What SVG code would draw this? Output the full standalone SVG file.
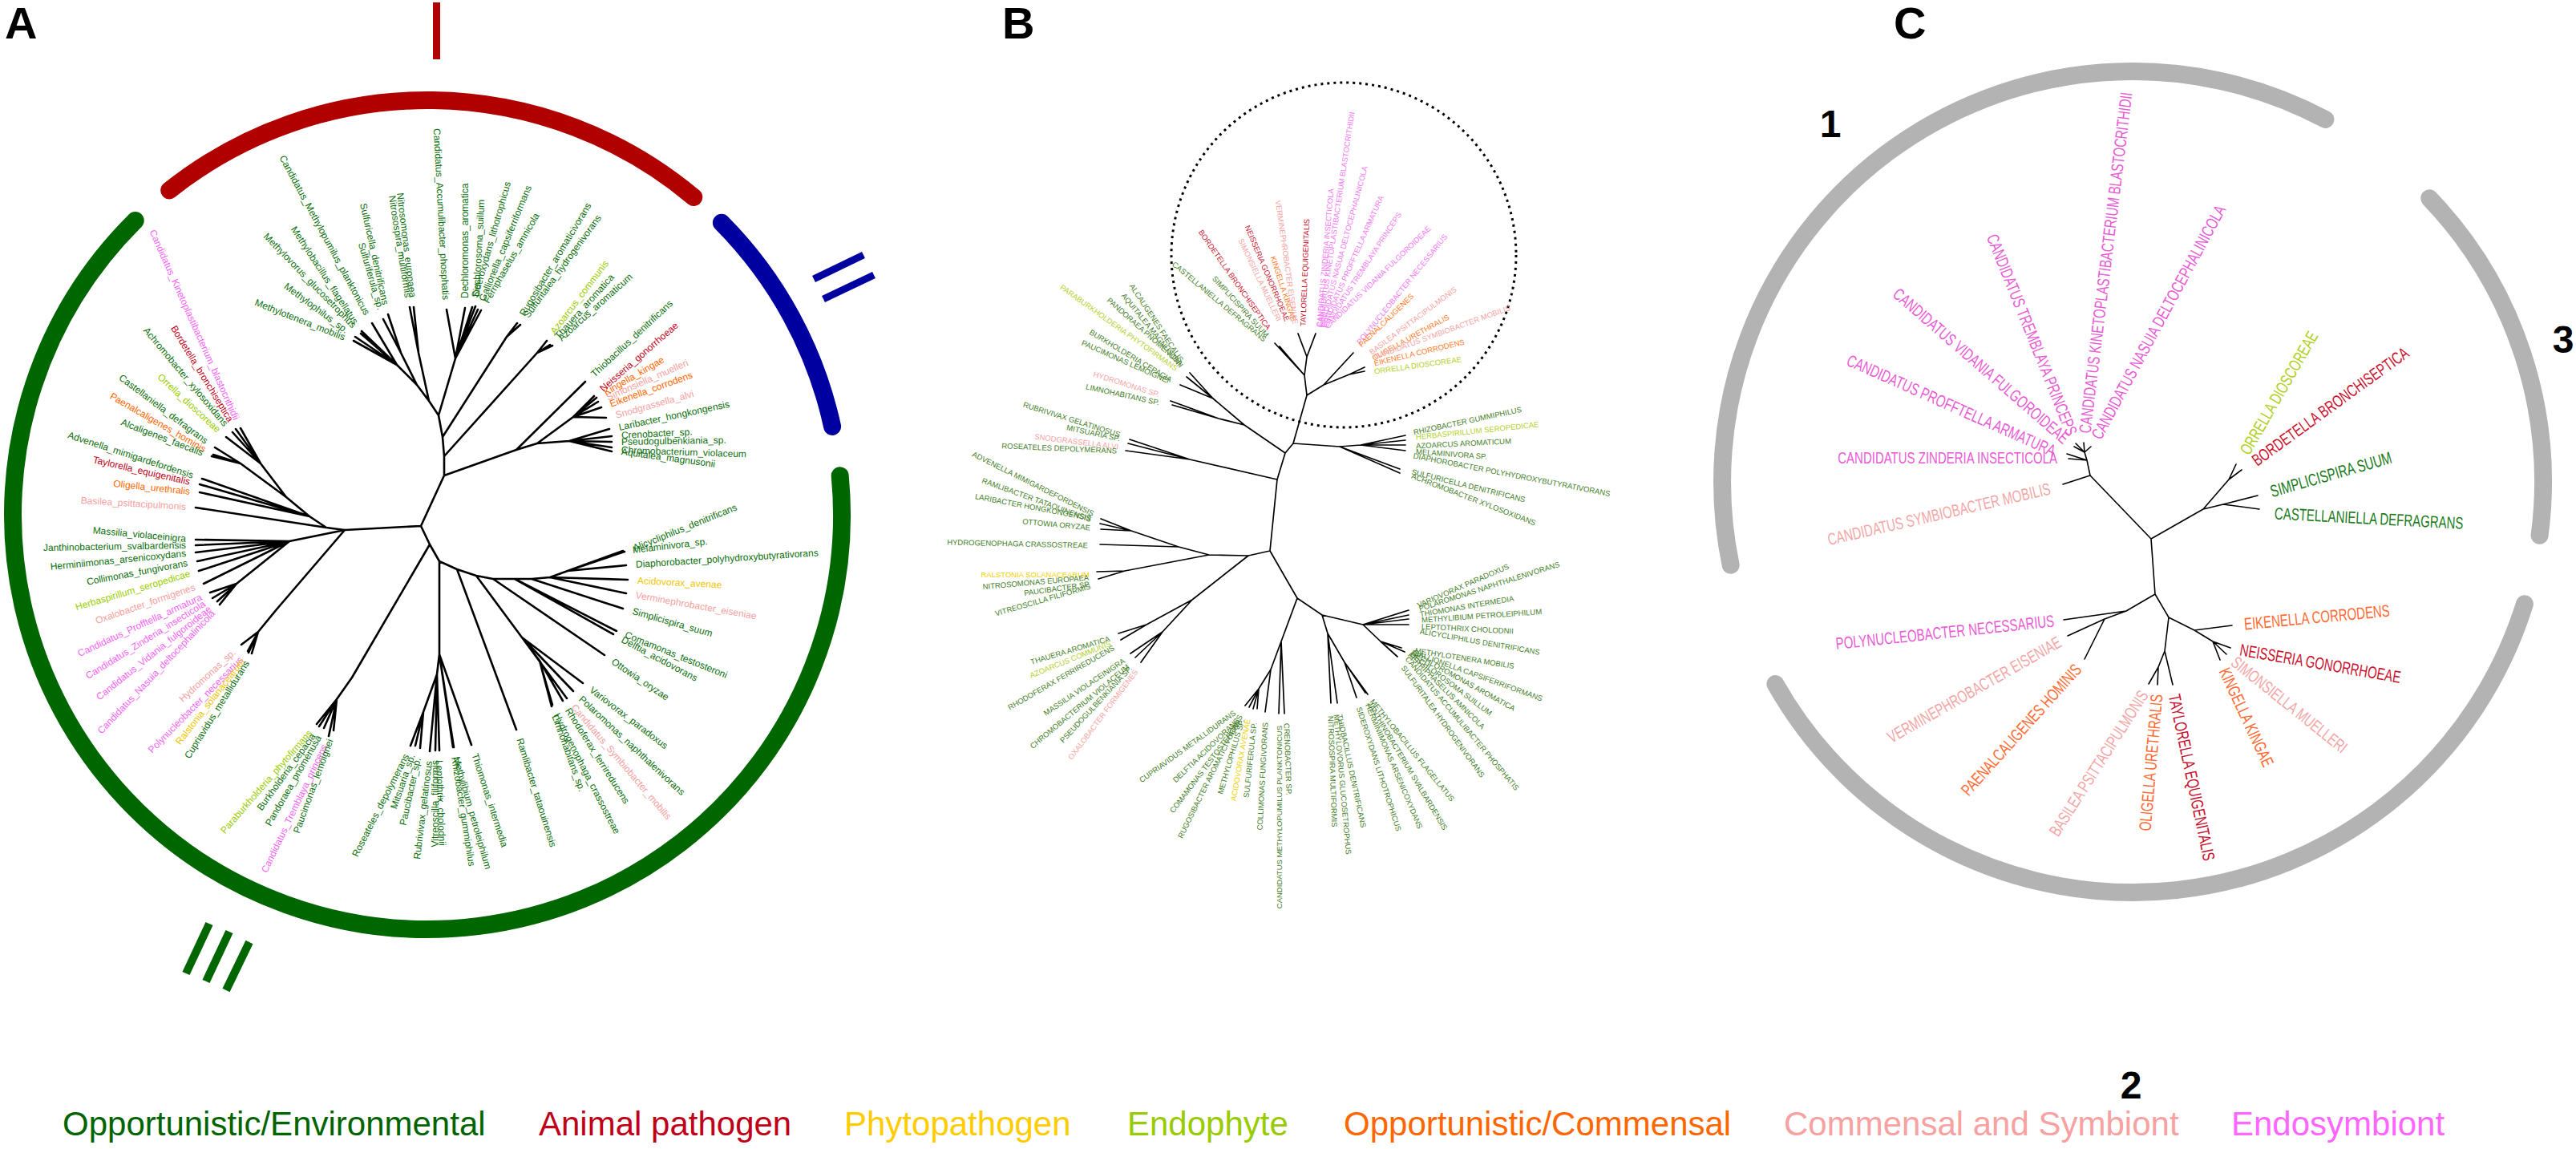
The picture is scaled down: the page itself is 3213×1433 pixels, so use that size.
<svg xmlns="http://www.w3.org/2000/svg" width="3213" height="1433" viewBox="0 0 3213 1433">
<style>
text{font-family:"Liberation Sans",Arial,sans-serif}
.lab{font-weight:bold}
.pa text{font-size:12px;dominant-baseline:central}
.pb text{font-size:9.5px;dominant-baseline:central}
.pc text{font-size:15px;dominant-baseline:central}
.l{text-anchor:end}
.og{fill:#0b6e0b}.ap{fill:#c0001a}.ph{fill:#f0c400}.en{fill:#9acd00}.oc{fill:#ff6600}.cs{fill:#f4a0a0}.es{fill:#f562f5}
.pb .og{fill:#437d27}.pb .es{fill:#f37af3}.pb .en{fill:#b3d12e}.pb .ph{fill:#f2d000}.pb .ap{fill:#c8102e}.pb .oc{fill:#ff7a26}.pb .cs{fill:#f5a3a3}
.pc .es{fill:#e95bd5}.pc .og{fill:#1a7a1a}.pc .cs{fill:#f3a6a6}.pc .oc{fill:#ff6a33}.pc .ap{fill:#c8102e}.pc .en{fill:#b0d020}
.tree{stroke:#000;fill:none;stroke-linecap:round;stroke-linejoin:round}
.arc{fill:none;stroke-linecap:round;stroke-width:22}
.leg{font-size:42px}
</style>

<!-- Panel letters -->
<text id="lab-A" class="lab" x="6" y="48" font-size="56">A</text>
<text id="lab-B" class="lab" x="1250" y="48" font-size="56">B</text>
<text id="lab-C" class="lab" x="2362" y="48" font-size="56">C</text>

<!-- Panel A arcs and markers -->
<g id="a-arcs">
<path class="arc" stroke="#b00000" d="M211.2 237.4 A517 517 0 0 1 865.3 246"/>
<path class="arc" stroke="#0000a0" d="M899.9 277.7 A517 517 0 0 1 1038.1 531.9"/>
<path class="arc" stroke="#006600" d="M1047.7 593.3 A517 517 0 1 1 168.7 275.1"/>
<rect x="540" y="3" width="9" height="71" fill="#b00000"/>
<g stroke="#0000a0" stroke-width="9"><line x1="1015" y1="348" x2="1077" y2="318"/><line x1="1027" y1="373" x2="1090" y2="343"/></g>
<g stroke="#006600" stroke-width="10"><line x1="232" y1="1214" x2="261" y2="1152"/><line x1="257" y1="1224" x2="286" y2="1162"/><line x1="282" y1="1235" x2="311" y2="1175"/></g>
</g>

<!-- Panel A tree -->
<g id="a-connectors" class="tree" stroke-width="2.6">
<path d="M525 656L430 661L407 658L244 633M407 658L386 644L252 597M386 644L249 604M386 644L249 614M386 644L357 620L325 578L300 534M325 578L294 535M325 578L290 539M325 578L282 545M357 620L300 578L268 558M300 578L266 567M300 578L264 569
M430 661L361 675L244 673M361 675L244 680M361 675L244 689M361 675L246 700M361 675L248 712M361 675L254 728M361 675L295 728L262 739M295 728L265 746M295 728L271 750M295 728L274 754
M430 661L345 760L322 788L301 804M322 788L309 812M322 788L310 814M322 788L314 815
M525 656L536 679L439 845L420 872L395 903M420 872L398 906M420 872L404 908M420 872L410 918M420 872L416 911
M536 679L548 700L548 816L545 841L528 888L512 930M528 888L518 930M528 888L524 933M545 841L536 937M545 841L543 936M545 841L548 936M548 816L565 932M548 816L566 932M548 816L588 929
M548 700L570 710L594 718L615 722L642 722L663 722L686 720L708 712M570 710L644 910M594 718L651 795L727 852M651 795L715 862M651 795L707 871M651 795L673 824L702 874M673 824L689 879M673 824L688 881M615 722L754 817M642 722L765 791M642 722L769 787M663 722L777 759M686 720L781 740M686 720L783 723M708 712L781 705M708 712L777 687M708 712L779 688
M525 656L554 593L554 569L552 545L547 518L535 500L520 480L495 455L441 425M495 455L443 420M495 455L450 416M495 455L451 413M495 455L464 403M520 480L500 440L484 392M500 440L478 398M535 500L522 440L516 383M522 440L511 383
M547 518L568 447L557 386M568 447L580 384M568 447L593 382M568 447L589 383M568 447L596 386M568 447L600 387
M552 545L632 420L645 403M632 420L649 405M554 569L670 440L689 431M670 440L686 430M670 440L682 425
M554 593L644 561L730 476M644 561L670 553L715 520L741 494M715 520L744 496M715 520L746 501M715 520L750 508M715 520L756 521M670 553L710 550L760 535M710 550L763 544M710 550L763 551M710 550L763 558M710 550L763 563"/>
</g>

<!-- Panel A labels -->
<g id="a-labels" class="pa">
<text id="a01" class="l es" transform="translate(295 523) rotate(66)">Candidatus_Kinetoplastibacterium_blastocrithidii</text>
<text id="a02" class="l ap" transform="translate(288 525) rotate(58.6)">Bordetella_bronchiseptica</text>
<text id="a03" class="l og" transform="translate(282 530) rotate(50)">Achromobacter_xylosoxidans</text>
<text id="a04" class="l en" transform="translate(273 537) rotate(42.6)">Orrella_dioscoreae</text>
<text id="a05" class="l og" transform="translate(258 551) rotate(37)">Castellaniella_defragrans</text>
<text id="a06" class="l oc" transform="translate(256 561) rotate(30)">Paenalcaligenes_hominis</text>
<text id="a07" class="l og" transform="translate(253 565) rotate(21)">Alcaligenes_faecalis</text>
<text id="a08" class="l og" transform="translate(241 593) rotate(18)">Advenella_mimigardefordensis</text>
<text id="a09" class="l ap" transform="translate(237 601) rotate(13)">Taylorella_equigenitalis</text>
<text id="a10" class="l oc" transform="translate(237 613) rotate(6)">Oligella_urethralis</text>
<text id="a11" class="l cs" transform="translate(232 632) rotate(3.5)">Basilea_psittacipulmonis</text>
<text id="a12" class="l og" transform="translate(232 672) rotate(5.3)">Massilia_violaceinigra</text>
<text id="a13" class="l og" transform="translate(232 680) rotate(-1)">Janthinobacterium_svalbardensis</text>
<text id="a14" class="l og" transform="translate(232 690) rotate(-5.7)">Herminiimonas_arsenicoxydans</text>
<text id="a15" class="l og" transform="translate(234 702) rotate(-10.7)">Collimonas_fungivorans</text>
<text id="a16" class="l en" transform="translate(237 715) rotate(-16.6)">Herbaspirillum_seropedicae</text>
<text id="a17" class="l cs" transform="translate(243 732) rotate(-19)">Oxalobacter_formigenes</text>
<text id="a18" class="l es" transform="translate(251 744) rotate(-25)">Candidatus_Profftella_armatura</text>
<text id="a19" class="l es" transform="translate(255 752) rotate(-32)">Candidatus_Zinderia_insecticola</text>
<text id="a20" class="l es" transform="translate(262 758) rotate(-38.7)">Candidatus_Vidania_fulgoroideae</text>
<text id="a21" class="l es" transform="translate(266 763) rotate(-46.6)">Candidatus_Nasuia_deltocephalinicola</text>
<text id="a22" class="l cs" transform="translate(292 812) rotate(-42.6)">Hydromonas_sp.</text>
<text id="a23" class="l es" transform="translate(301 821) rotate(-45.5)">Polynucleobacter_necessarius</text>
<text id="a24" class="l ph" transform="translate(303 823) rotate(-52)">Ralstonia_solanacearum</text>
<text id="a25" class="l og" transform="translate(308 825) rotate(-58)">Cupriavidus_metallidurans</text>
<text id="a26" class="l en" transform="translate(387 912) rotate(-49)">Paraburkholderia_phytofirmans</text>
<text id="a27" class="l og" transform="translate(391 916) rotate(-54)">Burkholderia_cepacia</text>
<text id="a28" class="l og" transform="translate(398 918) rotate(-60)">Pandoraea_pnomenusa</text>
<text id="a29" class="l es" transform="translate(405 929) rotate(-64.5)">Candidatus_Tremblaya_princeps</text>
<text id="a30" class="l og" transform="translate(412 922) rotate(-70)">Paucimonas_lemoignei</text>
<text id="a31" class="l og" transform="translate(507 941) rotate(-63)">Roseateles_depolymerans</text>
<text id="a32" class="l og" transform="translate(514 941) rotate(-71)">Mitsuaria_sp.</text>
<text id="a33" class="l og" transform="translate(521 945) rotate(-77.5)">Paucibacter_sp.</text>
<text id="a34" class="l og" transform="translate(535 949) rotate(-83)">Rubrivivax_gelatinosus</text>
<text id="a35" class="l og" transform="translate(543 948) rotate(-90)">Vitreoscilla_filiformis</text>
<text id="a36" class="og" transform="translate(548 948) rotate(88)">Leptothrix_cholodnii</text>
<text id="a37" class="og" transform="translate(567 944) rotate(81)">Rhizobacter_gummiphilus</text>
<text id="a38" class="og" transform="translate(569 944) rotate(74)">Methylibium_petroleiphilum</text>
<text id="a39" class="og" transform="translate(592 940) rotate(72)">Thiomonas_intermedia</text>
<text id="a40" class="og" transform="translate(648 921) rotate(72.7)">Ramlibacter_tataouinensis</text>
<text id="a41" class="og" transform="translate(692 892) rotate(70)">Limnohabitans_sp.</text>
<text id="a42" class="og" transform="translate(694 890) rotate(63)">Hydrogenophaga_crassostreae</text>
<text id="a43" class="og" transform="translate(708 884) rotate(57.7)">Rhodoferax_ferrireducens</text>
<text id="a44" class="cs" transform="translate(715 880) rotate(49.5)">Candidatus_Symbiobacter_mobilis</text>
<text id="a45" class="og" transform="translate(724 870) rotate(43)">Polaromonas_naphthalenivorans</text>
<text id="a46" class="og" transform="translate(737 859) rotate(37.5)">Variovorax_paradoxus</text>
<text id="a47" class="og" transform="translate(764 824) rotate(34)">Ottowia_oryzae</text>
<text id="a48" class="og" transform="translate(776 797) rotate(28)">Delftia_acidovorans</text>
<text id="a49" class="og" transform="translate(780 791) rotate(22)">Comamonas_testosteroni</text>
<text id="a50" class="og" transform="translate(789 762) rotate(16)">Simplicispira_suum</text>
<text id="a51" class="cs" transform="translate(793 742) rotate(10)">Verminephrobacter_eiseniae</text>
<text id="a52" class="ph" transform="translate(795 724) rotate(3)">Acidovorax_avenae</text>
<text id="a53" class="og" transform="translate(793 704) rotate(-3.7)">Diaphorobacter_polyhydroxybutyrativorans</text>
<text id="a54" class="og" transform="translate(789 686) rotate(-6.7)">Melaminivora_sp.</text>
<text id="a55" class="og" transform="translate(790 684) rotate(-22)">Alicycliphilus_denitrificans</text>
<text id="a56" class="og" transform="translate(775 563) rotate(7.7)">Aquitalea_magnusonii</text>
<text id="a57" class="og" transform="translate(775 561) rotate(2)">Chromobacterium_violaceum</text>
<text id="a58" class="og" transform="translate(775 551) rotate(-1)">Pseudogulbenkiania_sp.</text>
<text id="a59" class="og" transform="translate(775 543) rotate(-3)">Crenobacter_sp.</text>
<text id="a60" class="og" transform="translate(772 533) rotate(-12)">Laribacter_hongkongensis</text>
<text id="a61" class="cs" transform="translate(768 518) rotate(-15.7)">Snodgrassella_alvi</text>
<text id="a62" class="oc" transform="translate(761 504) rotate(-19.8)">Eikenella_corrodens</text>
<text id="a63" class="cs" transform="translate(757 496) rotate(-23.7)">Simonsiella_muelleri</text>
<text id="a64" class="oc" transform="translate(754 490) rotate(-30)">Kingella_kingae</text>
<text id="a65" class="ap" transform="translate(750 486) rotate(-41)">Neisseria_gonorrhoeae</text>
<text id="a66" class="og" transform="translate(739 468) rotate(-43)">Thiobacillus_denitrificans</text>
<text id="a67" class="og" transform="translate(698 423) rotate(-41.8)">Azoarcus_aromaticum</text>
<text id="a68" class="og" transform="translate(694 421) rotate(-48)">Thauera_aromatica</text>
<text id="a69" class="en" transform="translate(689 415) rotate(-52.8)">Azoarcus_communis</text>
<text id="a70" class="og" transform="translate(656 395) rotate(-54)">Sulfuritalea_hydrogenivorans</text>
<text id="a71" class="og" transform="translate(651 393) rotate(-59)">Rugosibacter_aromaticivorans</text>
<text id="a72" class="og" transform="translate(606 377) rotate(-60)">Ferriphaselus_amnicola</text>
<text id="a73" class="og" transform="translate(601 375) rotate(-67.8)">Gallionella_capsiferriformans</text>
<text id="a74" class="og" transform="translate(592 371) rotate(-74)">Sideroxydans_lithotrophicus</text>
<text id="a75" class="og" transform="translate(594 370) rotate(-87)">Dechlorosoma_suillum</text>
<text id="a76" class="og" transform="translate(580 372) rotate(-90)">Dechloromonas_aromatica</text>
<text id="a77" class="l og" transform="translate(556 374) rotate(87)">Candidatus_Accumulibacter_phosphatis</text>
<text id="a78" class="l og" transform="translate(515 371) rotate(83)">Nitrosomonas_europaea</text>
<text id="a79" class="l og" transform="translate(509 371) rotate(81)">Nitrosospira_multiformis</text>
<text id="a80" class="l og" transform="translate(481 380) rotate(77.5)">Sulfuricella_denitrificans</text>
<text id="a81" class="l og" transform="translate(475 386) rotate(73.6)">Sulfuriferula_sp.</text>
<text id="a82" class="l og" transform="translate(458 392) rotate(61.7)">Candidatus_Methylopumilus_planktonicus</text>
<text id="a83" class="l og" transform="translate(444 403) rotate(56.8)">Methylobacillus_flagellatus</text>
<text id="a84" class="l og" transform="translate(442 407) rotate(45.8)">Methylovorus_glucosetrophus</text>
<text id="a85" class="l og" transform="translate(433 413) rotate(36.7)">Methylophilus_sp.</text>
<text id="a86" class="l og" transform="translate(430 421) rotate(21.7)">Methylotenera_mobilis</text>
</g>

<!-- Panel B -->
<circle id="b-circle" cx="1676" cy="318" r="215" fill="none" stroke="#000" stroke-width="3" stroke-dasharray="3 5"/>
<g id="b-connectors" class="tree" stroke-width="1.7">
<path d="M1613 553L1630 493L1627 468L1630 445L1619 416M1630 445L1641 416M1627 468L1590 428M1627 468L1596 432M1630 493L1651 480L1688 440M1651 480L1683 467L1702 458M1683 467L1702 463
M1613 553L1671 557L1697 555L1753 543M1697 555L1753 549M1697 555L1753 555M1697 555L1753 562M1671 557L1746 585M1671 557L1746 590
M1613 553L1603 565L1552 530L1513 497L1484 465M1513 497L1480 470M1513 497L1472 480M1552 530L1520 522L1460 500M1520 522L1462 505
M1603 565L1593 598L1484 573L1409 548M1484 573L1407 553M1484 573L1404 562M1593 598L1584 687
M1584 687L1557 693L1508 692L1470 682L1372 679M1470 682L1411 662L1373 647M1411 662L1372 653M1411 662L1373 660M1508 692L1403 712L1368 713M1403 712L1370 722
M1557 693L1487 748L1430 779L1395 790M1430 779L1398 798M1487 748L1450 788L1410 815M1450 788L1416 820M1450 788L1423 826
M1584 687L1618 746L1649 767L1700 779L1757 761M1700 779L1757 767M1700 779L1757 772M1700 779L1757 779M1700 779L1722 800L1748 808M1722 800L1752 813M1722 800L1743 819
M1618 746L1598 800L1595 890M1598 800L1602 890M1598 800L1585 835L1578 888M1585 835L1570 859L1553 880M1570 859L1558 882M1570 859L1563 884M1570 859L1568 884
M1649 767L1656 790L1660 877M1656 790L1668 877M1656 790L1677 826L1692 870M1677 826L1703 864M1677 826L1706 866"/>
</g>
<g id="b-labels" class="pb">
<text id="b01" class="l og" transform="translate(1578 424) rotate(40)">CASTELLANIELLA DEFRAGRANS</text>
<text id="b02" class="l og" transform="translate(1581 419) rotate(47.6)">SIMPLICISPIRA SUUM</text>
<text id="b03" class="l ap" transform="translate(1583 410) rotate(55)">BORDETELLA BRONCHISEPTICA</text>
<text id="b04" class="l ap" transform="translate(1606 400) rotate(67)">NEISSERIA GONORRHOEAE</text>
<text id="b05" class="l cs" transform="translate(1596 400) rotate(64.5)">SIMONSIELLA MUELLERI</text>
<text id="b06" class="l oc" transform="translate(1614 400) rotate(72)">KINGELLA KINGAE</text>
<text id="b07" class="l cs" transform="translate(1616 404) rotate(82)">VERMINEPHROBACTER EISENIAE</text>
<text id="b08" class="ap" transform="translate(1625 407) rotate(-88)">TAYLORELLA EQUIGENITALIS</text>
<text id="b09" class="es" transform="translate(1645 408) rotate(-85)">CANDIDATUS ZINDERIA INSECTICOLA</text>
<text id="b10" class="es" transform="translate(1646 408) rotate(-81.5)">CANDIDATUS KINETOPLASTIBACTERIUM BLASTOCRITHIDII</text>
<text id="b11" class="es" transform="translate(1648 408) rotate(-74.8)">CANDIDATUS NASUIA DELTOCEPHALINICOLA</text>
<text id="b12" class="es" transform="translate(1650 408) rotate(-66)">CANDIDATUS PROFFTELLA ARMATURA</text>
<text id="b13" class="es" transform="translate(1652 408) rotate(-56.7)">CANDIDATUS TREMBLAYA PRINCEPS</text>
<text id="b14" class="es" transform="translate(1654 408) rotate(-44)">CANDIDATUS VIDANIA FULGOROIDEAE</text>
<text id="b15" class="es" transform="translate(1694 428) rotate(-51)">POLYNUCLEOBACTER NECESSARIUS</text>
<text id="b16" class="oc" transform="translate(1696 431) rotate(-44)">PAENALCALIGENES</text>
<text id="b17" class="cs" transform="translate(1709 440) rotate(-37)">BASILEA PSITTACIPULMONIS</text>
<text id="b18" class="oc" transform="translate(1712 447) rotate(-29)">OLIGELLA URETHRALIS</text>
<text id="b19" class="cs" transform="translate(1714 445) rotate(-20)">CANDIDATUS SYMBIOBACTER MOBILIS</text>
<text id="b20" class="oc" transform="translate(1714 453) rotate(-13.5)">EIKENELLA CORRODENS</text>
<text id="b21" class="en" transform="translate(1714 463) rotate(-8)">ORRELLA DIOSCOREAE</text>
<text id="b22" class="l og" transform="translate(1474 450) rotate(56.6)">ALCALIGENES FAECALIS</text>
<text id="b23" class="l og" transform="translate(1474 457) rotate(51)">AQUITALEA MAGNUSONII</text>
<text id="b24" class="l og" transform="translate(1474 454) rotate(41.5)">PANDORAEA PNOMENUSA</text>
<text id="b25" class="l en" transform="translate(1468 460) rotate(35.5)">PARABURKHOLDERIA PHYTOFIRMANS</text>
<text id="b26" class="l og" transform="translate(1461 474) rotate(31)">BURKHOLDERIA CEPACIA</text>
<text id="b27" class="l og" transform="translate(1458 475) rotate(24)">PAUCIMONAS LEMOIGNEI</text>
<text id="b28" class="l cs" transform="translate(1446 492) rotate(17.5)">HYDROMONAS SP.</text>
<text id="b29" class="l og" transform="translate(1446 502) rotate(12.4)">LIMNOHABITANS SP.</text>
<text id="b30" class="l og" transform="translate(1397 542) rotate(17.5)">RUBRIVIVAX GELATINOSUS</text>
<text id="b31" class="l og" transform="translate(1397 547) rotate(12)">MITSUARIA SP.</text>
<text id="b32" class="l cs" transform="translate(1395 557) rotate(7)">SNODGRASSELLA ALVI</text>
<text id="b33" class="l og" transform="translate(1393 562) rotate(2.5)">ROSEATELES DEPOLYMERANS</text>
<text id="b34" class="l og" transform="translate(1364 641) rotate(26.6)">ADVENELLA MIMIGARDEFORDENSIS</text>
<text id="b35" class="l og" transform="translate(1361 648) rotate(20)">RAMLIBACTER TATAOUINENSIS</text>
<text id="b36" class="l og" transform="translate(1361 646) rotate(10.7)">LARIBACTER HONGKONGENSIS</text>
<text id="b37" class="l og" transform="translate(1360 658) rotate(5.4)">OTTOWIA ORYZAE</text>
<text id="b38" class="l og" transform="translate(1357 680) rotate(1.3)">HYDROGENOPHAGA CRASSOSTREAE</text>
<text id="b39" class="l ph" transform="translate(1359 716) rotate(0)">RALSTONIA SOLANACEARUM</text>
<text id="b40" class="l og" transform="translate(1358 720) rotate(-5)">NITROSOMONAS EUROPAEA</text>
<text id="b41" class="l og" transform="translate(1360 728) rotate(-8)">PAUCIBACTER SP.</text>
<text id="b42" class="l og" transform="translate(1360 731) rotate(-16)">VITREOSCILLA FILIFORMIS</text>
<text id="b43" class="l og" transform="translate(1384 796) rotate(-16.7)">THAUERA AROMATICA</text>
<text id="b44" class="l en" transform="translate(1385 802) rotate(-22)">AZOARCUS COMMUNIS</text>
<text id="b45" class="l og" transform="translate(1389 807) rotate(-30)">RHODOFERAX FERRIREDUCENS</text>
<text id="b46" class="l og" transform="translate(1402 823) rotate(-34)">MASSILIA VIOLACEINIGRA</text>
<text id="b47" class="l og" transform="translate(1407 830) rotate(-40)">CHROMOBACTERIUM VIOLACEUM</text>
<text id="b48" class="l og" transform="translate(1410 832) rotate(-47)">PSEUDOGULBENKIANIA SP.</text>
<text id="b49" class="l cs" transform="translate(1417 836) rotate(-53)">OXALOBACTER FORMIGENES</text>
<text id="b50" class="l og" transform="translate(1540 888) rotate(-36)">CUPRIAVIDUS METALLIDURANS</text>
<text id="b51" class="l og" transform="translate(1544 897) rotate(-44)">DELFTIA ACIDOVORANS</text>
<text id="b52" class="l og" transform="translate(1545 901) rotate(-53)">COMAMONAS TESTOSTERONI</text>
<text id="b53" class="l og" transform="translate(1547 892) rotate(-63.7)">RUGOSIBACTER AROMATICIVORANS</text>
<text id="b54" class="l og" transform="translate(1549 897) rotate(-73.6)">METHYLOPHILUS SP.</text>
<text id="b55" class="l ph" transform="translate(1556 897) rotate(-80)">ACIDOVORAX AVENAE</text>
<text id="b56" class="l og" transform="translate(1564 901) rotate(-84)">SULFURIFERULA SP.</text>
<text id="b57" class="l og" transform="translate(1578 901) rotate(-87)">COLLIMONAS FUNGIVORANS</text>
<text id="b58" class="l og" transform="translate(1595 905) rotate(-90)">CANDIDATUS METHYLOPUMILUS PLANKTONICUS</text>
<text id="b59" class="og" transform="translate(1605 902) rotate(88)">CRENOBACTER SP.</text>
<text id="b60" class="og" transform="translate(1660 893) rotate(88)">NITROSOSPIRA MULTIFORMIS</text>
<text id="b61" class="og" transform="translate(1667 891) rotate(85)">METHYLOVORUS GLUCOSETROPHUS</text>
<text id="b62" class="og" transform="translate(1671 891) rotate(78)">THIOBACILLUS DENITRIFICANS</text>
<text id="b63" class="og" transform="translate(1695 882) rotate(72)">SIDEROXYDANS LITHOTROPHICUS</text>
<text id="b64" class="og" transform="translate(1706 878) rotate(67)">HERMINIIMONAS ARSENICOXYDANS</text>
<text id="b65" class="og" transform="translate(1708 876) rotate(59)">JANTHINOBACTERIUM SVALBARDENSIS</text>
<text id="b66" class="og" transform="translate(1711 873) rotate(51)">METHYLOBACILLUS FLAGELLATUS</text>
<text id="b67" class="og" transform="translate(1750 831) rotate(54)">SULFURITALEA HYDROGENIVORANS</text>
<text id="b68" class="og" transform="translate(1755 820) rotate(50)">CANDIDATUS ACCUMULIBACTER PHOSPHATIS</text>
<text id="b69" class="og" transform="translate(1758 815) rotate(45)">FERRIPHASELUS AMNICOLA</text>
<text id="b70" class="og" transform="translate(1760 815) rotate(37)">DECHLOROSOMA SUILLUM</text>
<text id="b71" class="og" transform="translate(1761 813) rotate(29)">DECHLOROMONAS AROMATICA</text>
<text id="b72" class="og" transform="translate(1763 813) rotate(20)">GALLIONELLA CAPSIFERRIFORMANS</text>
<text id="b73" class="og" transform="translate(1765 811) rotate(9)">METHYLOTENERA MOBILIS</text>
<text id="b74" class="og" transform="translate(1768 755) rotate(-23.5)">VARIOVORAX PARADOXUS</text>
<text id="b75" class="og" transform="translate(1770 759) rotate(-17.7)">POLAROMONAS NAPHTHALENIVORANS</text>
<text id="b76" class="og" transform="translate(1771 766) rotate(-9.7)">THIOMONAS INTERMEDIA</text>
<text id="b77" class="og" transform="translate(1773 773) rotate(-4)">METHYLIBIUM PETROLEIPHILUM</text>
<text id="b78" class="og" transform="translate(1773 781) rotate(3)">LEPTOTHRIX CHOLODNII</text>
<text id="b79" class="og" transform="translate(1771 787) rotate(10)">ALICYCLIPHILUS DENITRIFICANS</text>
<text id="b80" class="og" transform="translate(1763 539) rotate(-12)">RHIZOBACTER GUMMIPHILUS</text>
<text id="b81" class="en" transform="translate(1766 545) rotate(-6)">HERBASPIRILLUM SEROPEDICAE</text>
<text id="b82" class="og" transform="translate(1766 556) rotate(-3)">AZOARCUS AROMATICUM</text>
<text id="b83" class="og" transform="translate(1766 563) rotate(4)">MELAMINIVORA SP.</text>
<text id="b84" class="og" transform="translate(1763 568) rotate(11)">DIAPHOROBACTER POLYHYDROXYBUTYRATIVORANS</text>
<text id="b85" class="og" transform="translate(1761 588) rotate(14)">SULFURICELLA DENITRIFICANS</text>
<text id="b86" class="og" transform="translate(1761 593) rotate(21)">ACHROMOBACTER XYLOSOXIDANS</text>
</g>

<!-- Panel C -->
<g id="c-arcs">
<path class="arc" stroke="#b3b3b3" d="M2158.7 704.8 A512 512 0 0 1 2900.4 148.9"/>
<path class="arc" stroke="#b3b3b3" d="M3030.2 247.3 A512 512 0 0 1 3167.6 667.8"/>
<path class="arc" stroke="#b3b3b3" d="M3148.9 753.3 A512 512 0 0 1 2214.4 853.1"/>
<text id="c-n1" class="lab" x="2283" y="171" font-size="48" text-anchor="middle">1</text>
<text id="c-n2" class="lab" x="2658" y="1370" font-size="48" text-anchor="middle">2</text>
<text id="c-n3" class="lab" x="3197" y="440" font-size="48" text-anchor="middle">3</text>
</g>
<g id="c-connectors" class="tree" stroke-width="1.6">
<path d="M2683 672L2607 593L2573 604M2607 593L2603 574L2580 572M2603 574L2578 566M2603 574L2600 564L2589 553M2600 564L2587 557M2600 564L2599 552M2600 564L2608 557
M2683 672L2688 741L2652 762L2574 773M2652 762L2625 772L2579 793M2625 772L2600 822
M2688 741L2705 770L2737 786L2784 780M2737 786L2760 800L2782 808M2760 800L2777 816M2760 800L2769 823M2705 770L2700 812L2710 854M2700 812L2692 832L2691 854M2692 832L2680 853
M2683 672L2748 635L2773 629L2816 618M2773 629L2818 635M2748 635L2780 598L2796 586M2780 598L2789 579"/>
</g>
<g id="c-labels" class="pc">
<text id="c01" class="l es" transform="translate(2566 571) scale(1 1.4)">CANDIDATUS ZINDERIA INSECTICOLA</text>
<text id="c02" class="l cs" transform="translate(2557 609) rotate(-13) scale(1 1.4)">CANDIDATUS SYMBIOBACTER MOBILIS</text>
<text id="c03" class="l es" transform="translate(2563 563) rotate(24) scale(1 1.4)">CANDIDATUS PROFFTELLA ARMATURA</text>
<text id="c04" class="l es" transform="translate(2578 549) rotate(41) scale(1 1.4)">CANDIDATUS VIDANIA FULGOROIDEAE</text>
<text id="c05" class="l es" transform="translate(2585 542) rotate(68) scale(1 1.4)">CANDIDATUS TREMBLAYA PRINCEPS</text>
<text id="c06" class="es" transform="translate(2600 540) rotate(-83) scale(1 1.4)">CANDIDATUS KINETOPLASTIBACTERIUM BLASTOCRITHIDII</text>
<text id="c07" class="es" transform="translate(2614 546) rotate(-61.6) scale(1 1.4)">CANDIDATUS NASUIA DELTOCEPHALINICOLA</text>
<text id="c08" class="l es" transform="translate(2562 774) rotate(-6) scale(1 1.4)">POLYNUCLEOBACTER NECESSARIUS</text>
<text id="c09" class="l cs" transform="translate(2569 799) rotate(-29.7) scale(1 1.4)">VERMINEPHROBACTER EISENIAE</text>
<text id="c10" class="l oc" transform="translate(2592 831) rotate(-48) scale(1 1.4)">PAENALCALIGENES HOMINIS</text>
<text id="c11" class="l cs" transform="translate(2674 863) rotate(-57.5) scale(1 1.4)">BASILEA PSITTACIPULMONIS</text>
<text id="c12" class="l oc" transform="translate(2690 866) rotate(-85) scale(1 1.4)">OLIGELLA URETHRALIS</text>
<text id="c13" class="ap" transform="translate(2712 866) rotate(78) scale(1 1.4)">TAYLORELLA EQUIGENITALIS</text>
<text id="c14" class="oc" transform="translate(2774 834) rotate(65) scale(1 1.4)">KINGELLA KINGAE</text>
<text id="c15" class="cs" transform="translate(2786 823) rotate(38.7) scale(1 1.4)">SIMONSIELLA MUELLERI</text>
<text id="c16" class="ap" transform="translate(2794 810) rotate(9.8) scale(1 1.4)">NEISSERIA GONORRHOEAE</text>
<text id="c17" class="oc" transform="translate(2799 778) rotate(-5.3) scale(1 1.4)">EIKENELLA CORRODENS</text>
<text id="c18" class="og" transform="translate(2837 640) rotate(3) scale(1 1.4)">CASTELLANIELLA DEFRAGRANS</text>
<text id="c19" class="og" transform="translate(2832 613) rotate(-16) scale(1 1.4)">SIMPLICISPIRA SUUM</text>
<text id="c20" class="ap" transform="translate(2811 576) rotate(-36) scale(1 1.4)">BORDETELLA BRONCHISEPTICA</text>
<text id="c21" class="en" transform="translate(2799 565) rotate(-60) scale(1 1.4)">ORRELLA DIOSCOREAE</text>
</g>

<!-- Legend -->
<g id="legend" class="leg">
<text id="lg1" x="78" y="1416" fill="#006400">Opportunistic/Environmental</text>
<text id="lg2" x="672" y="1416" fill="#c00018">Animal pathogen</text>
<text id="lg3" x="1053" y="1416" fill="#ffcc00">Phytopathogen</text>
<text id="lg4" x="1406" y="1416" fill="#99cc00">Endophyte</text>
<text id="lg5" x="1676" y="1416" fill="#ff6600">Opportunistic/Commensal</text>
<text id="lg6" x="2225" y="1416" fill="#f7a1a1">Commensal and Symbiont</text>
<text id="lg7" x="2783" y="1416" fill="#ff66ff">Endosymbiont</text>
</g>
</svg>
